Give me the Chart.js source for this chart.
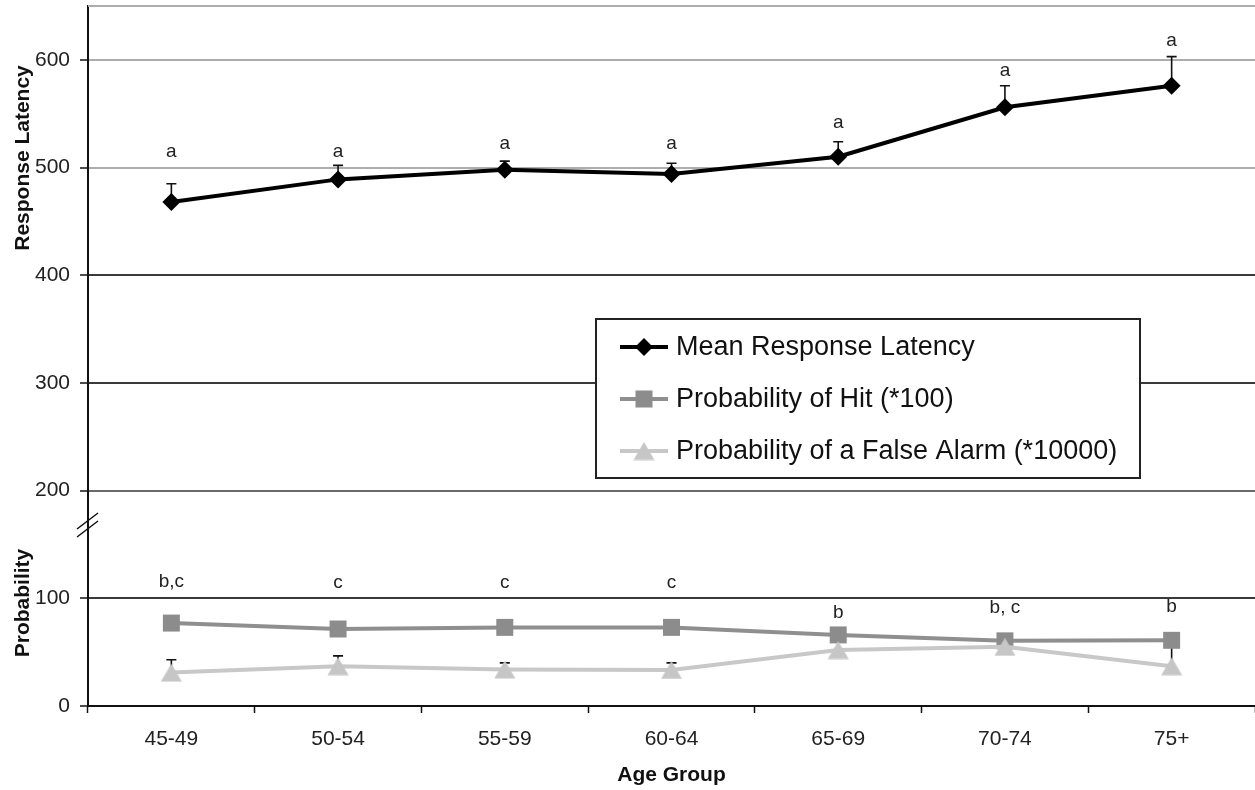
<!DOCTYPE html>
<html>
<head>
<meta charset="utf-8">
<script src="https://cdn.jsdelivr.net/npm/chart.js@4.4.0/dist/chart.umd.min.js"></script>
<style>
  html, body { margin: 0; padding: 0; background: #fff; }
  #wrap { width: 1255px; height: 790px; position: relative; }
</style>
</head>
<body>
<div id="wrap"><canvas id="chart"></canvas></div>
<script>
const ageGroups = ["45-49", "50-54", "55-59", "60-64", "65-69", "70-74", "75+"];
const latency = [468, 489, 498, 494, 510, 556, 576];
const latencyErr = [17, 13, 8, 10, 14, 20, 27];
const hitProb = [77, 71.5, 73, 73, 66, 60.5, 61];
const falseAlarm = [31, 37, 34, 33.5, 52, 55, 37];
const falseAlarmErr = [12, 9.5, 6, 6.5, 0, 0, 21];
const yTicks = [0, 100, 200, 300, 400, 500, 600];

// significance letters and the value level they sit at
const latencyLetters = ["a", "a", "a", "a", "a", "a", "a"];
const latencyLetterY = [515, 515, 522, 522, 542, 590, 618];
const probLetters = ["b,c", "c", "c", "c", "b", "b, c", "b"];
const probLetterY = [115, 114, 114, 114, 86.5, 91, 92];

const FONT = "'Liberation Sans', Arial, sans-serif";
Chart.defaults.font.family = FONT;
Chart.defaults.color = "#222";

// centred triangle marker like the original
const tri = document.createElement("canvas");
tri.width = 22; tri.height = 19;
(function () {
  const t = tri.getContext("2d");
  t.fillStyle = "#c6c6c6";
  t.beginPath();
  t.moveTo(11, 0.5); t.lineTo(21.5, 18.5); t.lineTo(0.5, 18.5);
  t.closePath(); t.fill();
})();

function gridColor(v) {
  if (v === 0) return "rgba(0,0,0,0)";
  if (v >= 500) return "#adadad";
  if (v === 200) return "#6a6a6a";
  return "#3a3a3a";
}

const extras = {
  id: "extras",
  beforeDatasetsDraw(chart) {
    const { ctx, scales: { x, y } } = chart;
    ctx.save();
    ctx.strokeStyle = "#111";
    ctx.lineWidth = 1.6;
    const bars = (vals, errs) => vals.forEach((v, i) => {
      if (!errs[i]) return;
      const px = x.getPixelForValue(i);
      const y0 = y.getPixelForValue(v), y1 = y.getPixelForValue(v + errs[i]);
      ctx.beginPath();
      ctx.moveTo(px, y0); ctx.lineTo(px, y1);
      ctx.moveTo(px - 5, y1); ctx.lineTo(px + 5, y1);
      ctx.stroke();
    });
    bars(latency, latencyErr);
    bars(falseAlarm, falseAlarmErr);
    ctx.restore();
  },
  afterDatasetsDraw(chart) {
    const { ctx, chartArea: a, scales: { x, y } } = chart;
    ctx.save();

    // top frame line
    ctx.strokeStyle = "#adadad";
    ctx.lineWidth = 2;
    ctx.beginPath(); ctx.moveTo(a.left, a.top); ctx.lineTo(a.right, a.top); ctx.stroke();

    // axis break marks
    ctx.strokeStyle = "#111";
    ctx.lineWidth = 1.5;
    ctx.beginPath();
    ctx.moveTo(a.left - 11, 529); ctx.lineTo(a.left + 10, 513);
    ctx.moveTo(a.left - 11, 537); ctx.lineTo(a.left + 10, 521);
    ctx.stroke();

    // letters
    ctx.fillStyle = "#222";
    ctx.font = "19px " + FONT;
    ctx.textAlign = "center";
    ctx.textBaseline = "middle";
    latencyLetters.forEach((t, i) => ctx.fillText(t, x.getPixelForValue(i), y.getPixelForValue(latencyLetterY[i])));
    probLetters.forEach((t, i) => ctx.fillText(t, x.getPixelForValue(i), y.getPixelForValue(probLetterY[i])));

    // y titles
    ctx.font = "bold 21px " + FONT;
    ctx.fillStyle = "#111";
    [["Response Latency", 158], ["Probability", 603]].forEach(([t, cy]) => {
      ctx.save();
      ctx.translate(23, cy);
      ctx.rotate(-Math.PI / 2);
      ctx.fillText(t, 0, 0);
      ctx.restore();
    });

    // legend box
    const bx = 596, by = 319, bw = 544, bh = 159;
    ctx.fillStyle = "#fff";
    ctx.fillRect(bx, by, bw, bh);
    ctx.strokeStyle = "#222";
    ctx.lineWidth = 2;
    ctx.strokeRect(bx, by, bw, bh);
    ctx.font = "27px " + FONT;
    ctx.textAlign = "left";
    chart.data.datasets.forEach((ds, i) => {
      const ly = by + 28 + i * 52;
      ctx.strokeStyle = ds.borderColor;
      ctx.lineWidth = ds.borderWidth;
      ctx.beginPath(); ctx.moveTo(bx + 24, ly); ctx.lineTo(bx + 72, ly); ctx.stroke();
      const cx = bx + 48;
      ctx.fillStyle = ds.pointBackgroundColor;
      if (ds.pointStyle === "rectRot") {
        ctx.beginPath();
        ctx.moveTo(cx, ly - 9); ctx.lineTo(cx + 9, ly); ctx.lineTo(cx, ly + 9); ctx.lineTo(cx - 9, ly);
        ctx.closePath(); ctx.fill();
      } else if (ds.pointStyle === "rect") {
        ctx.fillRect(cx - 8.5, ly - 8.5, 17, 17);
      } else {
        ctx.drawImage(tri, cx - tri.width / 2, ly - tri.height / 2);
      }
      ctx.fillStyle = "#111";
      ctx.fillText(ds.label, bx + 80, ly + 1);
    });
    ctx.restore();
  }
};

new Chart(document.getElementById("chart"), {
  type: "line",
  data: {
    labels: ageGroups,
    datasets: [
      {
        label: "Mean Response Latency",
        data: latency,
        borderColor: "#000",
        borderWidth: 4,
        pointStyle: "rectRot",
        pointRadius: 9,
        pointBackgroundColor: "#000",
        pointBorderWidth: 0,
        order: 0
      },
      {
        label: "Probability of Hit (*100)",
        data: hitProb,
        borderColor: "#8f8f8f",
        borderWidth: 4,
        pointStyle: "rect",
        pointRadius: 12,
        pointBackgroundColor: "#8c8c8c",
        pointBorderWidth: 0,
        order: 2
      },
      {
        label: "Probability of a False Alarm (*10000)",
        data: falseAlarm,
        borderColor: "#c8c8c8",
        borderWidth: 4,
        pointStyle: tri,
        pointBackgroundColor: "#c6c6c6",
        order: 1
      }
    ]
  },
  options: {
    responsive: true,
    maintainAspectRatio: false,
    animation: false,
    events: [],
    layout: { autoPadding: false, padding: { top: 6, right: 0, left: 0, bottom: 0 } },
    plugins: {
      legend: { display: false },
      tooltip: { enabled: false }
    },
    scales: {
      x: {
        offset: true,
        grid: { offset: true, drawOnChartArea: false, tickLength: 7, tickColor: "#111", tickWidth: 1.5 },
        border: { color: "#111", width: 2 },
        ticks: { font: { size: 21 }, color: "#222", padding: 14, maxRotation: 0 },
        title: { display: true, text: "Age Group", font: { size: 21, weight: "bold" }, color: "#111", padding: { top: 0, bottom: 2 } },
        afterFit: (s) => { s.height = 84; s.paddingLeft = 0; s.paddingRight = 0; }
      },
      y: {
        min: 0,
        max: 650,
        afterBuildTicks: (s) => { s.ticks = yTicks.map(v => ({ value: v })); },
        grid: {
          color: (c) => gridColor(c.tick.value),
          lineWidth: 2,
          tickLength: 8,
          tickColor: "#111",
          tickWidth: 1.5
        },
        border: { color: "#111", width: 2 },
        ticks: { font: { size: 21 }, color: "#222", padding: 10 },
        afterFit: (s) => { s.width = 88; s.paddingTop = 0; s.paddingBottom = 0; }
      }
    }
  },
  plugins: [extras]
});
</script>
</body>
</html>
